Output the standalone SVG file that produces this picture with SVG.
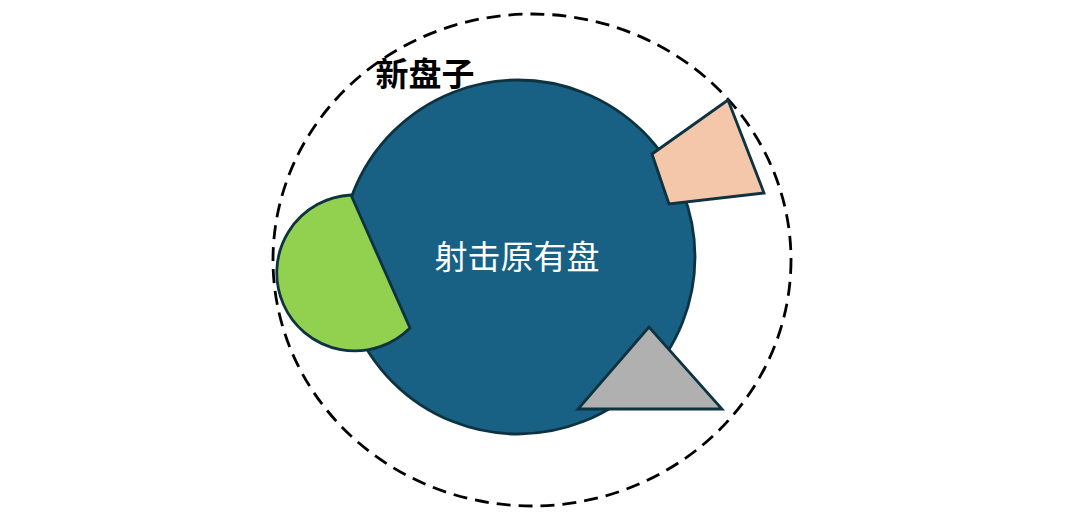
<svg xmlns="http://www.w3.org/2000/svg" width="1080" height="514" viewBox="0 0 1080 514">
<style>
.sh{stroke:#0d3340;stroke-width:2.8;stroke-linejoin:miter}
.lbl{font-family:"Noto Sans CJK SC","Noto Sans",sans-serif;font-size:33px;text-anchor:middle}
</style>
<rect width="1080" height="514" fill="#ffffff"/>
<g id="new-plate">
<ellipse cx="532" cy="260" rx="259" ry="246" fill="none" stroke="#000" stroke-width="2.8" stroke-dasharray="14 8"/>
<text class="lbl" x="425" y="86" fill="#000" font-weight="bold">新盘子</text>
</g>
<g id="original-plate">
<circle cx="518" cy="257" r="177" class="sh" fill="#186184"/>
<text class="lbl" x="517" y="269" fill="#ffffff" font-size="34">射击原有盘</text>
</g>
<g id="green-piece">
<path d="M351,195 L410,328 A78,78 0 1 1 351,195 Z" class="sh" fill="#92d050"/>
</g>
<g id="pink-piece">
<polygon points="652,154 728,100 764,193 669,204" class="sh" fill="#f4c7aa"/>
</g>
<g id="gray-piece">
<polygon points="649,327 578,409 722,409" class="sh" fill="#b0b0b0"/>
</g>
<g id="connectors"></g>
</svg>
